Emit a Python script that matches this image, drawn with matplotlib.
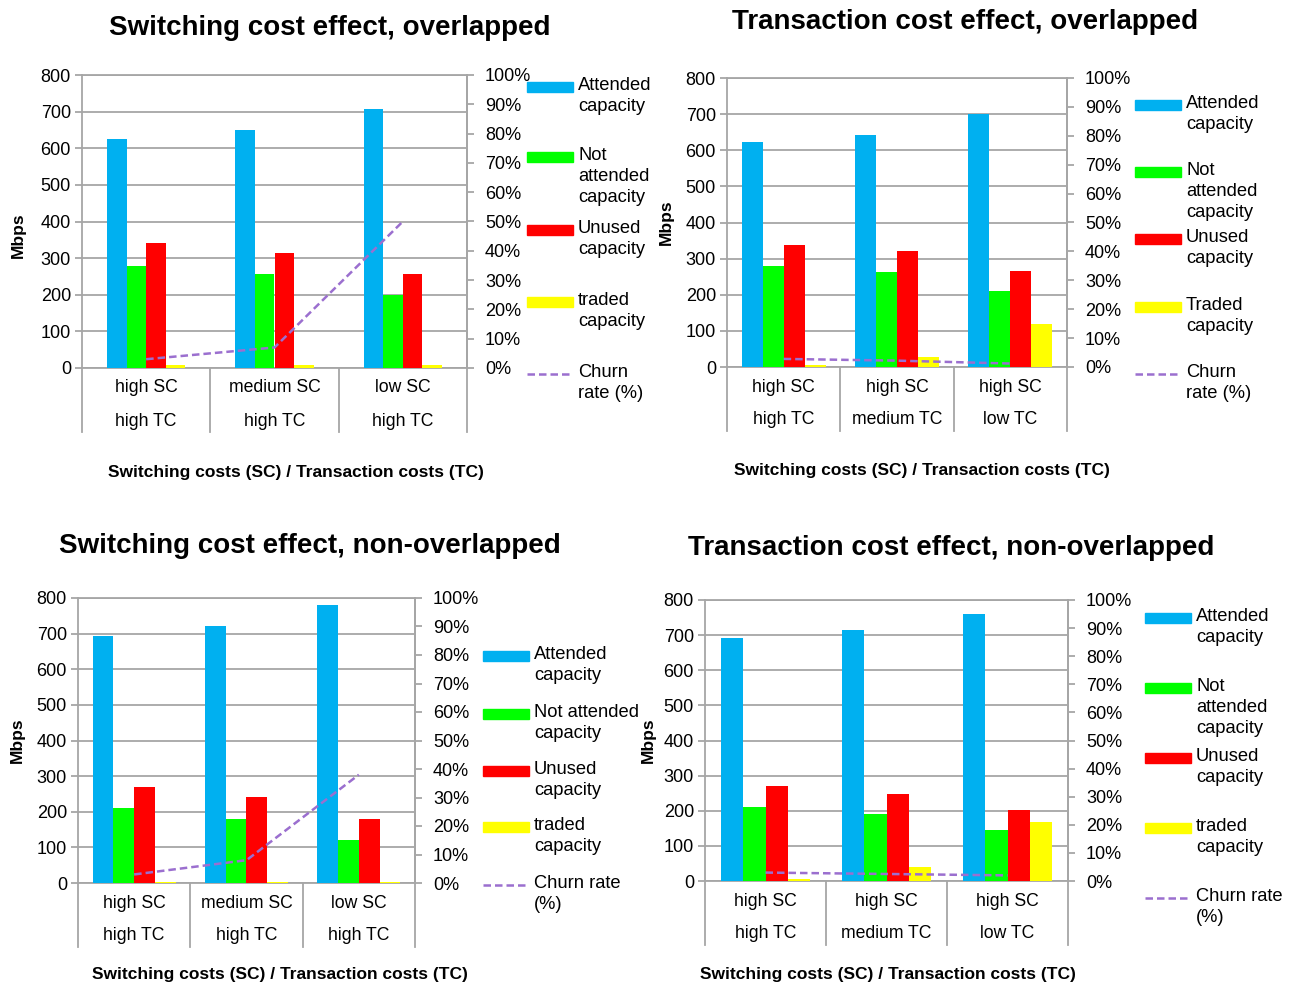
import matplotlib
matplotlib.use('Agg')
import matplotlib.pyplot as plt
from matplotlib.lines import Line2D
from matplotlib.patches import Rectangle
import matplotlib.transforms as mtransforms
import numpy as np

plt.rcParams['font.family'] = ['Liberation Sans', 'DejaVu Sans']

# =============================================================================
# Data (Mbps, churn in %)
# =============================================================================
TITLES = ['Switching cost effect, overlapped',
          'Transaction cost effect, overlapped',
          'Switching cost effect, non-overlapped',
          'Transaction cost effect, non-overlapped']

SC_LABELS_SC = ['high SC', 'medium SC', 'low SC']
TC_LABELS_SC = ['high TC', 'high TC', 'high TC']
SC_LABELS_TC = ['high SC', 'high SC', 'high SC']
TC_LABELS_TC = ['high TC', 'medium TC', 'low TC']

attended_1 = [625, 650, 707]
not_attended_1 = [278, 258, 200]
unused_1 = [340, 315, 258]
traded_1 = [8, 8, 8]
churn_1 = [3, 7, 50]

attended_2 = [622, 643, 700]
not_attended_2 = [280, 263, 210]
unused_2 = [338, 320, 267]
traded_2 = [5, 27, 118]
churn_2 = [2.8, 2.2, 1.2]

attended_3 = [692, 722, 780]
not_attended_3 = [210, 180, 120]
unused_3 = [270, 242, 180]
traded_3 = [4, 4, 4]
churn_3 = [3, 8, 38]

attended_4 = [693, 715, 760]
not_attended_4 = [210, 190, 145]
unused_4 = [270, 248, 203]
traded_4 = [5, 40, 168]
churn_4 = [3, 2.5, 2]

LEGENDS = [
    ['Attended\ncapacity', 'Not\nattended\ncapacity', 'Unused\ncapacity',
     'traded\ncapacity', 'Churn\nrate (%)'],
    ['Attended\ncapacity', 'Not\nattended\ncapacity', 'Unused\ncapacity',
     'Traded\ncapacity', 'Churn\nrate (%)'],
    ['Attended\ncapacity', 'Not attended\ncapacity', 'Unused\ncapacity',
     'traded\ncapacity', 'Churn rate\n(%)'],
    ['Attended\ncapacity', 'Not\nattended\ncapacity', 'Unused\ncapacity',
     'traded\ncapacity', 'Churn rate\n(%)'],
]

COLORS = ['#00B0F0', '#00FF00', '#FF0000', '#FFFF00']
CHURN_COLOR = '#9B6FCF'
GRID = '#A6A6A6'

W, H = 1291, 985
fig = plt.figure(figsize=(W / 100, H / 100), dpi=100)


def fx(x):
    return x / W


def fy(y):
    return 1 - y / H


# panel layout, pixel boxes: left, top, right, bottom
BOXES = [(82, 75, 467, 368), (727, 78, 1067, 367),
         (78, 598, 415, 883), (705, 600, 1068, 881)]
BAR_W = [0.153, 0.185, 0.185, 0.185]
TITLE_POS = [(330, 28), (965, 22), (310, 546), (951, 548)]
XLABEL_POS = [(296, 472), (922, 470), (280, 975), (888, 975)]
YLABEL_POS = [(18, 235), (666, 222), (17, 740), (648, 740)]
LEG_X = [527, 1135, 483, 1145]
LEG_Y = [[87, 157, 230, 302, 374], [105, 172, 239, 307, 374],
         [656, 714, 771, 827, 885], [618, 688, 758, 828, 898]]

SERIES = [
    (attended_1, not_attended_1, unused_1, traded_1, churn_1,
     SC_LABELS_SC, TC_LABELS_SC),
    (attended_2, not_attended_2, unused_2, traded_2, churn_2,
     SC_LABELS_TC, TC_LABELS_TC),
    (attended_3, not_attended_3, unused_3, traded_3, churn_3,
     SC_LABELS_SC, TC_LABELS_SC),
    (attended_4, not_attended_4, unused_4, traded_4, churn_4,
     SC_LABELS_TC, TC_LABELS_TC),
]

for i, (att, nat, unu, trd, chu, row1, row2) in enumerate(SERIES):
    left, top, right, bottom = BOXES[i]
    ax = fig.add_axes([fx(left), fy(bottom), fx(right - left),
                       (bottom - top) / H])
    x = np.arange(3)
    w = BAR_W[i]
    for k, vals in enumerate([att, nat, unu, trd]):
        ax.bar(x + (k - 1.5) * w, vals, w, color=COLORS[k], zorder=3)
    ax.set_xlim(-0.5, 2.5)
    ax.set_ylim(0, 800)
    ax.set_yticks(range(0, 801, 100))
    ax.yaxis.grid(True, color=GRID, lw=1.3, zorder=0)
    ax.set_xticks([])
    for s in ax.spines.values():
        s.set_color(GRID)
        s.set_linewidth(1.3)
    ax.tick_params(axis='y', colors=GRID, labelcolor='black', labelsize=13,
                   length=5, width=1.3, pad=3)

    # category labels and separators
    trans = mtransforms.blended_transform_factory(ax.transData, ax.transAxes)
    ph = bottom - top
    for j in range(3):
        ax.text(j, -20 / ph, row1[j], transform=trans, ha='center',
                va='center', fontsize=12.7)
        ax.text(j, -53 / ph, row2[j], transform=trans, ha='center',
                va='center', fontsize=12.7)
    for xs in [-0.5, 0.5, 1.5, 2.5]:
        ax.plot([xs, xs], [0, -64 / ph], transform=trans, color=GRID,
                lw=1.3, clip_on=False)

    ax2 = ax.twinx()
    ax2.plot(x, chu, color=CHURN_COLOR, lw=1.8, ls=(0, (3, 1.6)), zorder=4)
    ax2.set_ylim(0, 100)
    ax2.set_yticks(range(0, 101, 10))
    ax2.set_yticklabels([f'{v}%' for v in range(0, 101, 10)])
    for s in ax2.spines.values():
        s.set_visible(False)
    ax2.spines['right'].set_visible(True)
    ax2.spines['right'].set_color(GRID)
    ax2.spines['right'].set_linewidth(1.3)
    ax2.tick_params(axis='y', colors=GRID, labelcolor='black', labelsize=13,
                    length=5, width=1.3, pad=8)

    # titles and axis labels
    tx, ty = TITLE_POS[i]
    fig.text(fx(tx), fy(ty), TITLES[i], ha='center', va='center',
             fontsize=20, fontweight='bold')
    lx, ly = XLABEL_POS[i]
    fig.text(fx(lx), fy(ly), 'Switching costs (SC) / Transaction costs (TC)',
             ha='center', va='center', fontsize=12.5, fontweight='bold')
    mx, my = YLABEL_POS[i]
    fig.text(fx(mx), fy(my), 'Mbps', ha='center', va='center', rotation=90,
             fontsize=12.5, fontweight='bold')

    # legend, Excel style
    x0 = LEG_X[i]
    for k, label in enumerate(LEGENDS[i]):
        yc = LEG_Y[i][k]
        if k < 4:
            fig.add_artist(Rectangle((fx(x0), fy(yc + 5)), fx(46), 10 / H,
                                     transform=fig.transFigure,
                                     color=COLORS[k]))
        else:
            fig.add_artist(Line2D([fx(x0), fx(x0 + 46)], [fy(yc), fy(yc)],
                                  transform=fig.transFigure,
                                  color=CHURN_COLOR, lw=1.8,
                                  ls=(0, (3, 1.6))))
        fig.text(fx(x0 + 51), fy(yc - 10), label, ha='left', va='top',
                 fontsize=13.2, linespacing=1.3)

fig.savefig('out.png', dpi=100)
